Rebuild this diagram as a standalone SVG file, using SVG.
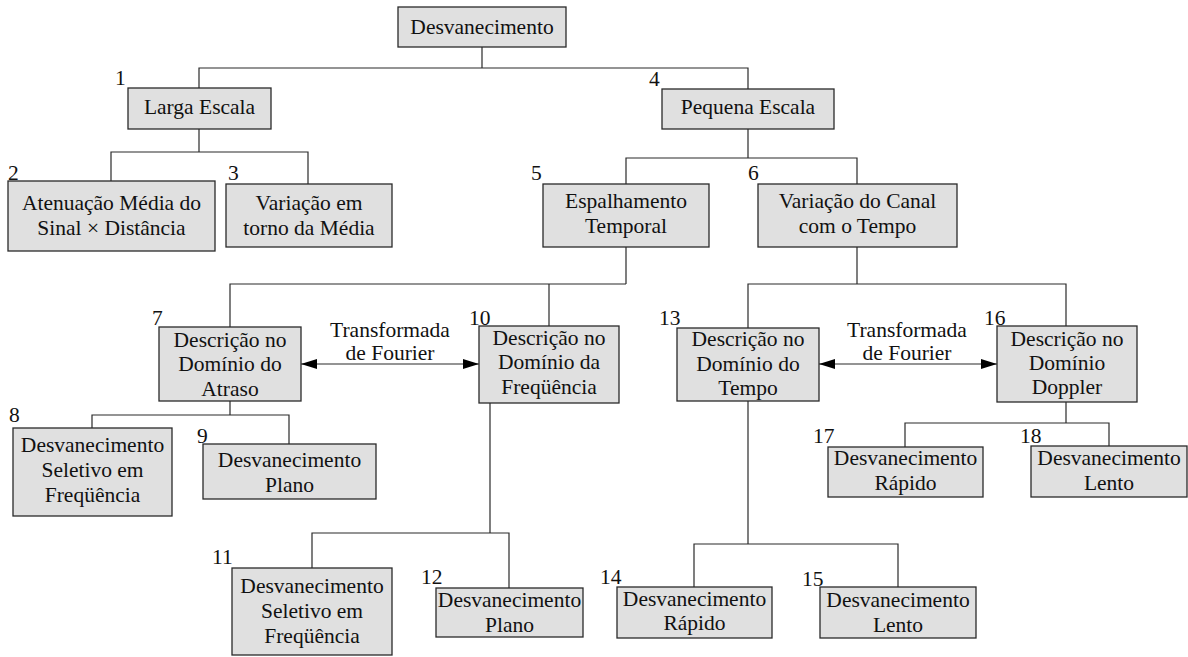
<svg xmlns="http://www.w3.org/2000/svg" width="1188" height="657" viewBox="0 0 1188 657">
<style>
.box{fill:#e0e0e0;stroke:#2a2a2a;stroke-width:1.3}
text{font-family:"Liberation Serif","Times New Roman",serif;font-size:21.5px;fill:#111}
.t{text-anchor:middle}
.c{fill:none;stroke:#2a2a2a;stroke-width:1.2}
</style>
<defs>
<marker id="ah" viewBox="0 0 16 10" refX="16" refY="5" markerWidth="16" markerHeight="10" markerUnits="userSpaceOnUse" orient="auto-start-reverse">
<path d="M0,0 L16,5 L0,10 Z" fill="#000"/>
</marker>
</defs>
<rect width="1188" height="657" fill="#fff"/>
<g id="connectors">
<path class="c" d="M482,47 V68 M199,88 V68 H748 V89"/>
<path class="c" d="M199,129 V152 M111,181 V152 H308 V184"/>
<path class="c" d="M748,129 V158 M626,184 V158 H857 V184"/>
<path class="c" d="M626,247 V284 M230,327 V284 H626 M549,284 V326"/>
<path class="c" d="M857,247 V284 M748,328 V284 H1066 V326"/>
<path class="c" d="M230,401 V415 M92,428 V415 H289 V444"/>
<path class="c" d="M490,403 V533 M312,568 V533 H509 V588"/>
<path class="c" d="M748,401 V544 M694,587 V544 H898 V587"/>
<path class="c" d="M1066,402 V423 M905,447 V423 H1109 V446"/>
<line class="c" x1="301" y1="364" x2="479" y2="364" marker-start="url(#ah)" marker-end="url(#ah)"/>
<line class="c" x1="819" y1="364" x2="997" y2="364" marker-start="url(#ah)" marker-end="url(#ah)"/>
<text class="t" x="390" y="337">Transformada</text>
<text class="t" x="390" y="360">de Fourier</text>
<text class="t" x="907" y="337">Transformada</text>
<text class="t" x="907" y="360">de Fourier</text>
</g>
<g id="n0"><rect class="box" x="398" y="7" width="168" height="40"/><text class="t" x="482" y="34">Desvanecimento</text></g>
<g id="n1"><rect class="box" x="128" y="88" width="143" height="41"/><text class="t" x="199.5" y="114">Larga Escala</text><text x="115" y="85">1</text></g>
<g id="n2"><rect class="box" x="8" y="181" width="207" height="70"/><text class="t" x="111.5" y="210">Atenuação Média do</text><text class="t" x="111.5" y="235">Sinal × Distância</text><text x="8" y="180">2</text></g>
<g id="n3"><rect class="box" x="226" y="184" width="166" height="63"/><text class="t" x="309" y="210">Variação em</text><text class="t" x="309" y="235">torno da Média</text><text x="228" y="180">3</text></g>
<g id="n4"><rect class="box" x="662" y="89" width="172" height="40"/><text class="t" x="748" y="114">Pequena Escala</text><text x="649" y="86">4</text></g>
<g id="n5"><rect class="box" x="543" y="184" width="166" height="63"/><text class="t" x="626" y="208">Espalhamento</text><text class="t" x="626" y="233">Temporal</text><text x="531" y="180">5</text></g>
<g id="n6"><rect class="box" x="758" y="184" width="199" height="63"/><text class="t" x="857.5" y="208">Variação do Canal</text><text class="t" x="857.5" y="233">com o Tempo</text><text x="748" y="180">6</text></g>
<g id="n7"><rect class="box" x="159" y="327" width="142" height="74"/><text class="t" x="230" y="347">Descrição no</text><text class="t" x="230" y="371">Domínio do</text><text class="t" x="230" y="396">Atraso</text><text x="152" y="325">7</text></g>
<g id="n8"><rect class="box" x="13" y="428" width="159" height="88"/><text class="t" x="92.5" y="452">Desvanecimento</text><text class="t" x="92.5" y="477">Seletivo em</text><text class="t" x="92.5" y="502">Freqüência</text><text x="9" y="422">8</text></g>
<g id="n9"><rect class="box" x="203" y="444" width="173" height="55"/><text class="t" x="289.5" y="467">Desvanecimento</text><text class="t" x="289.5" y="492">Plano</text><text x="197" y="443">9</text></g>
<g id="n10"><rect class="box" x="479" y="326" width="140" height="77"/><text class="t" x="549" y="345">Descrição no</text><text class="t" x="549" y="369">Domínio da</text><text class="t" x="549" y="394">Freqüência</text><text x="469" y="325">10</text></g>
<g id="n11"><rect class="box" x="232" y="568" width="160" height="87"/><text class="t" x="312" y="593">Desvanecimento</text><text class="t" x="312" y="618">Seletivo em</text><text class="t" x="312" y="643">Freqüência</text><text x="212" y="564">11</text></g>
<g id="n12"><rect class="box" x="436" y="588" width="147" height="49"/><text class="t" x="509.5" y="607">Desvanecimento</text><text class="t" x="509.5" y="632">Plano</text><text x="421" y="584">12</text></g>
<g id="n13"><rect class="box" x="677" y="328" width="142" height="73"/><text class="t" x="748" y="346">Descrição no</text><text class="t" x="748" y="371">Domínio do</text><text class="t" x="748" y="395">Tempo</text><text x="659" y="325">13</text></g>
<g id="n14"><rect class="box" x="617" y="587" width="155" height="51"/><text class="t" x="694.5" y="606">Desvanecimento</text><text class="t" x="694.5" y="630">Rápido</text><text x="600" y="584">14</text></g>
<g id="n15"><rect class="box" x="820" y="587" width="156" height="51"/><text class="t" x="898" y="607">Desvanecimento</text><text class="t" x="898" y="632">Lento</text><text x="802" y="586">15</text></g>
<g id="n16"><rect class="box" x="997" y="326" width="140" height="76"/><text class="t" x="1067" y="346">Descrição no</text><text class="t" x="1067" y="370">Domínio</text><text class="t" x="1067" y="394">Doppler</text><text x="984" y="325">16</text></g>
<g id="n17"><rect class="box" x="828" y="447" width="155" height="50"/><text class="t" x="905.5" y="465">Desvanecimento</text><text class="t" x="905.5" y="490">Rápido</text><text x="813" y="443">17</text></g>
<g id="n18"><rect class="box" x="1031" y="446" width="156" height="51"/><text class="t" x="1109" y="465">Desvanecimento</text><text class="t" x="1109" y="490">Lento</text><text x="1020" y="443">18</text></g>
</svg>
